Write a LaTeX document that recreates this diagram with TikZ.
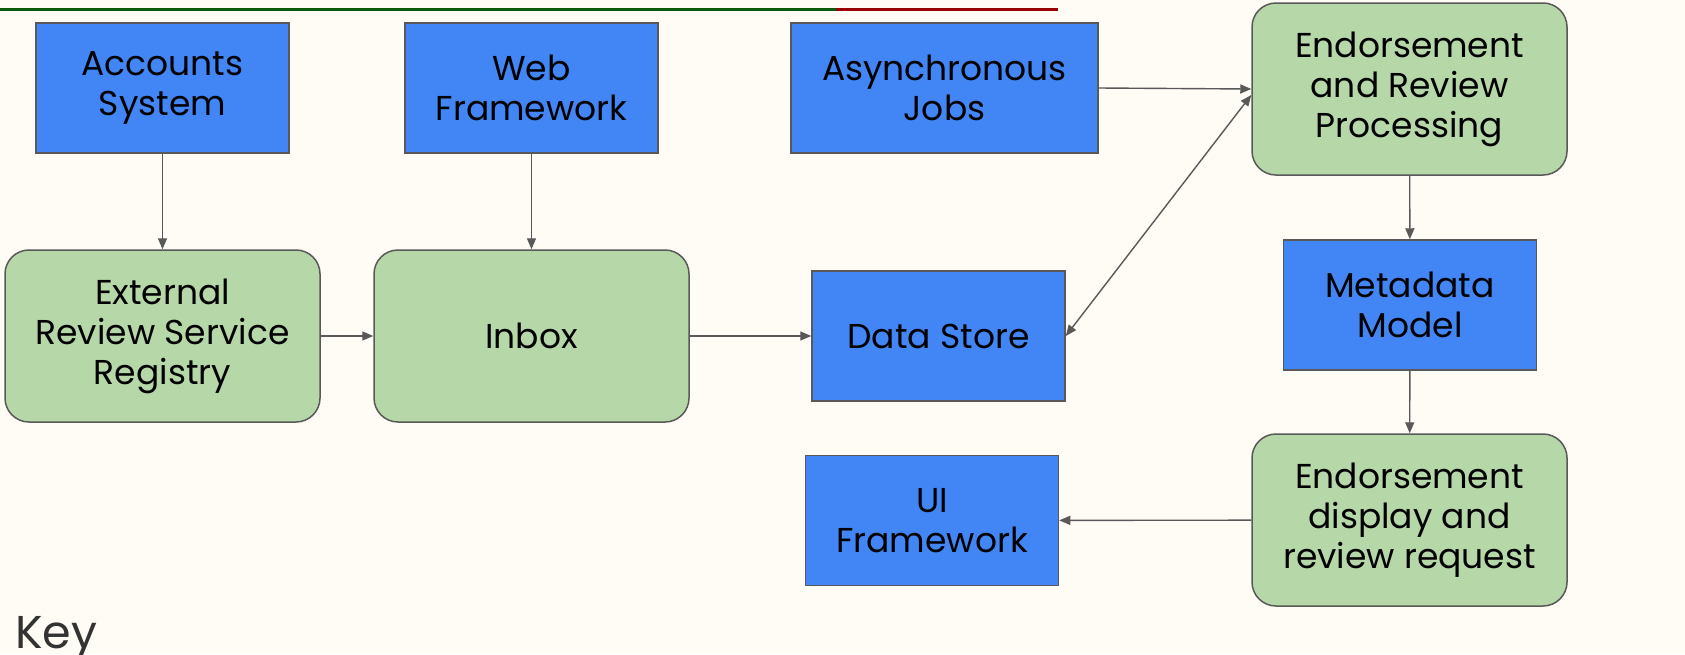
\documentclass[tikz,border=0pt]{standalone}
\usepackage{fontspec}
\setmainfont{Poppins}
\usetikzlibrary{arrows.meta}

\definecolor{paper}{HTML}{FFFBF5}
\definecolor{boxblue}{HTML}{4285F4}
\definecolor{boxgreen}{HTML}{B6D7A8}
\definecolor{edge}{HTML}{595959}
\definecolor{barGreen}{HTML}{0B5A0B}
\definecolor{barRed}{HTML}{9A0000}

\tikzset{
  part/.style={draw=edge, line width=1.5pt, align=center, text=black,
    font=\fontsize{34.5}{40}\selectfont, inner sep=0pt},
  library/.style={part, fill=boxblue, minimum width=253pt, minimum height=130pt},
  module/.style={part, fill=boxgreen, rounded corners=24pt, minimum width=315pt, minimum height=172pt},
  link/.style={draw=edge, line width=1.4pt, -{Triangle[length=11pt,width=9pt]}},
}

\begin{document}
\begin{tikzpicture}[x=1pt,y=-1pt]
\useasboundingbox[fill=paper] (0,0) rectangle (1685,654);

\draw[barGreen, line width=3pt] (0,9) -- (836,9);
\draw[barRed, line width=3pt] (836,9) -- (1058,9);

\node[library] (acc) at (162.5,88) {Accounts\\System};
\node[library] (web) at (531.5,88) {Web\\Framework};
\node[library, minimum width=307pt] (async) at (944.5,88) {Asynchronous\\Jobs};
\node[module] (erp) at (1409.5,89) {Endorsement\\and Review\\Processing};

\node[module] (ext) at (162.5,336) {External\\Review Service\\Registry};
\node[module] (inbox) at (531.5,336) {Inbox};
\node[library] (store) at (938.5,336) {Data Store};
\node[library] (meta) at (1410,305) {Metadata\\Model};

\node[library] (ui) at (932,520.5) {UI\\Framework};
\node[module] (edrr) at (1409.5,520) {Endorsement\\display and\\review request};

\node[anchor=north west, inner sep=0pt, text=black!80, font=\fontsize{46}{52}\selectfont] (key) at (15,616) {Key};

\draw[link] (acc) -- (ext);
\draw[link] (web) -- (inbox);
\draw[link] (ext) -- (inbox);
\draw[link] (inbox) -- (store);
\draw[link] (async.east) -- (erp.west);
\draw[link, {Triangle[length=11pt,width=9pt]}-{Triangle[length=11pt,width=9pt]}] (store.east) -- ([yshift=-6pt]erp.west);
\draw[link] (erp) -- (meta);
\draw[link] (meta) -- (edrr);
\draw[link] (edrr) -- (ui);

\end{tikzpicture}
\end{document}
